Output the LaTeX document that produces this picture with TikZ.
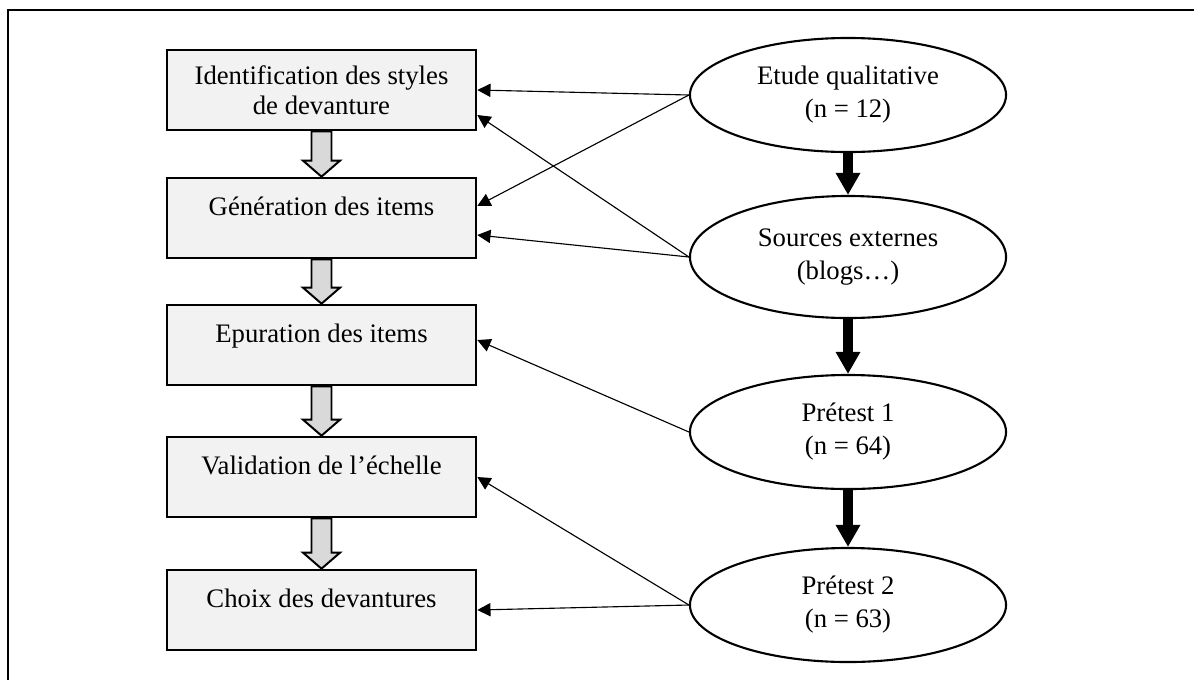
\documentclass[tikz,border=0pt]{standalone}
\usepackage{fontspec}
\setmainfont{Liberation Serif}
\usetikzlibrary{calc,arrows.meta,positioning,shapes.geometric}
\definecolor{boxbg}{HTML}{F2F2F2}
\definecolor{arrbg}{HTML}{D9D9D9}
\tikzset{
  bx/.style={draw,line width=1.9pt,fill=boxbg,align=center,minimum width=7.72cm,minimum height=2cm,inner sep=0pt,font=\fontsize{19}{21.5}\selectfont},
  oneline/.style={text height=13pt,text depth=16pt},
  el/.style={ellipse,draw,line width=1.5pt,fill=white,align=center,minimum width=7.9cm,minimum height=2.85cm,inner sep=0pt,font=\fontsize{19}{23.5}\selectfont},
  ar/.style={-{Triangle[length=3.3mm,width=3.3mm]},line width=0.8pt},
  bar/.style={-{Triangle[length=5.5mm,width=5.8mm]},line width=2.4mm},
  garr/.style={draw,line width=1.4pt,fill=arrbg,line join=miter}
}

\begin{document}
\begin{tikzpicture}[x=0.025cm,y=-0.025cm]
\useasboundingbox (0,0) rectangle (1194,679);
\draw[line width=2pt] (8,700) |- (1210,10);

% steps
\node[bx] (b1) at (321.5,90) {Identification des styles\\de devanture};
\node[bx,oneline] (b2) at (321.5,218) {Génération des items};
\node[bx,oneline] (b3) at (321.5,345) {Epuration des items};
\node[bx,oneline] (b4) at (321.5,477) {Validation de l’échelle};
\node[bx,oneline] (b5) at (321.5,610) {Choix des devantures};

% sources
\node[el] (e1) at (848,95) {Etude qualitative\\(n = 12)};
\node[el,minimum height=3.05cm] (e2) at (848,257) {Sources externes\\(blogs…)};
\node[el] (e3) at (848,432) {Prétest 1\\(n = 64)};
\node[el] (e4) at (848,605) {Prétest 2\\(n = 63)};

\foreach \i/\j in {1/2,2/3,3/4,4/5}{
  \draw[garr] ($(b\i.south)+(-10,0)$) -- ($(b\j.north)+(-10,-16)$) -- ($(b\j.north)+(-18.5,-16)$)
    -- (b\j.north) -- ($(b\j.north)+(18.5,-16)$) -- ($(b\j.north)+(10,-16)$) -- ($(b\i.south)+(10,0)$) -- cycle;
}
\foreach \i/\j in {1/2,2/3,3/4}{\draw[bar] (e\i.south) -- (e\j.north);}

\draw[ar] (e1.west) -- (b1.east);
\draw[ar] (e1.west) -- ($(b2.east)+(0,-12)$);
\draw[ar] (e2.west) -- ($(b1.east)+(0,25)$);
\draw[ar] (e2.west) -- ($(b2.east)+(0,17)$);
\draw[ar] (e3.west) -- ($(b3.east)+(0,-5)$);
\draw[ar] (e4.west) -- (b4.east);
\draw[ar] (e4.west) -- (b5.east);
\end{tikzpicture}
\end{document}
